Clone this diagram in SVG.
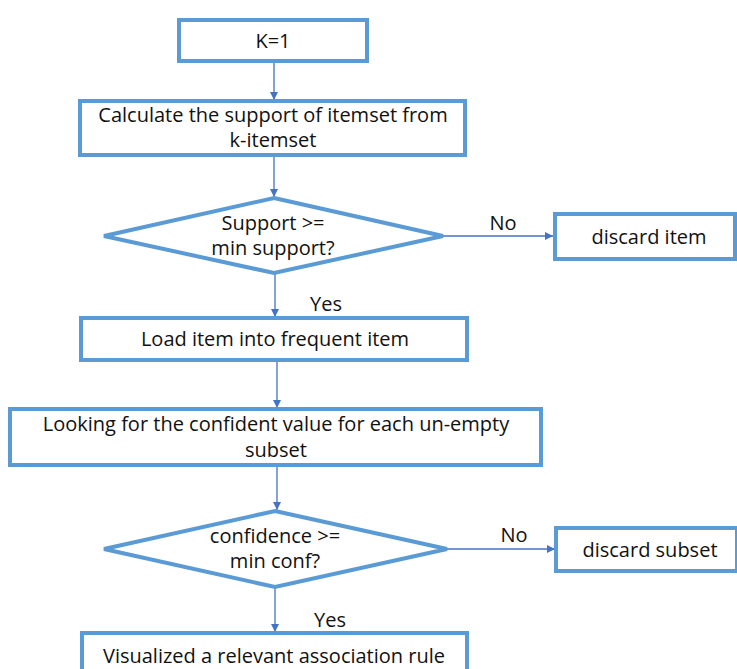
<svg xmlns="http://www.w3.org/2000/svg" width="737" height="669" viewBox="0 0 737 669">
<style>
.box{fill:#fff;stroke:#5B9BD5;stroke-width:4}
.t{font-family:"Open Sans","Liberation Sans",sans-serif;font-size:20px;fill:#111;text-anchor:middle}
.c{stroke:#4472C4;stroke-width:1.3;fill:none;marker-end:url(#a)}
</style>
<defs>
<marker id="a" viewBox="0 0 10 10" refX="10" refY="5" markerWidth="8" markerHeight="8" markerUnits="userSpaceOnUse" orient="auto">
<path d="M0,0 L10,5 L0,10 z" fill="#4472C4"/>
</marker>
</defs>
<rect width="737" height="669" fill="#fff"/>
<g id="connectors">
<line class="c" x1="274" y1="62" x2="274" y2="100"/>
<line class="c" x1="274" y1="157" x2="274" y2="197"/>
<line class="c" x1="275" y1="274" x2="275" y2="317"/>
<line class="c" x1="277" y1="361" x2="277" y2="408"/>
<line class="c" x1="277" y1="467" x2="277" y2="510"/>
<line class="c" x1="275" y1="588" x2="275" y2="632"/>
<line class="c" x1="443" y1="236" x2="553" y2="236"/>
<line class="c" x1="447" y1="549" x2="555" y2="549"/>
<text class="t" x="503" y="230">No</text>
<text class="t" x="514" y="542">No</text>
<text class="t" x="326" y="311">Yes</text>
<text class="t" x="330" y="627">Yes</text>
</g>
<g id="k1">
<rect class="box" x="179" y="20" width="188" height="41"/>
<text class="t" x="273" y="48">K=1</text>
</g>
<g id="calc">
<rect class="box" x="80" y="101" width="385" height="54"/>
<text class="t" x="273" y="122">Calculate the support of itemset from</text>
<text class="t" x="273" y="147">k-itemset</text>
</g>
<g id="dec1">
<polygon class="box" points="274,198 443,236 274,273 104,236"/>
<text class="t" x="273" y="230">Support &gt;=</text>
<text class="t" x="273" y="255">min support?</text>
</g>
<g id="discard-item">
<rect class="box" x="555" y="214" width="180" height="45"/>
<text class="t" x="649" y="244">discard item</text>
</g>
<g id="load">
<rect class="box" x="81" y="318" width="386" height="42"/>
<text class="t" x="275" y="346">Load item into frequent item</text>
</g>
<g id="looking">
<rect class="box" x="10" y="409" width="531" height="56"/>
<text class="t" x="276" y="431">Looking for the confident value for each un-empty</text>
<text class="t" x="276" y="457">subset</text>
</g>
<g id="dec2">
<polygon class="box" points="275,511 447,549 275,587 104,549"/>
<text class="t" x="275" y="543">confidence &gt;=</text>
<text class="t" x="275" y="568">min conf?</text>
</g>
<g id="discard-subset">
<rect class="box" x="556" y="528" width="181" height="43"/>
<text class="t" x="650" y="557">discard subset</text>
</g>
<g id="visualized">
<rect class="box" x="82" y="633" width="385" height="45"/>
<text class="t" x="274" y="663">Visualized a relevant association rule</text>
</g>
</svg>
